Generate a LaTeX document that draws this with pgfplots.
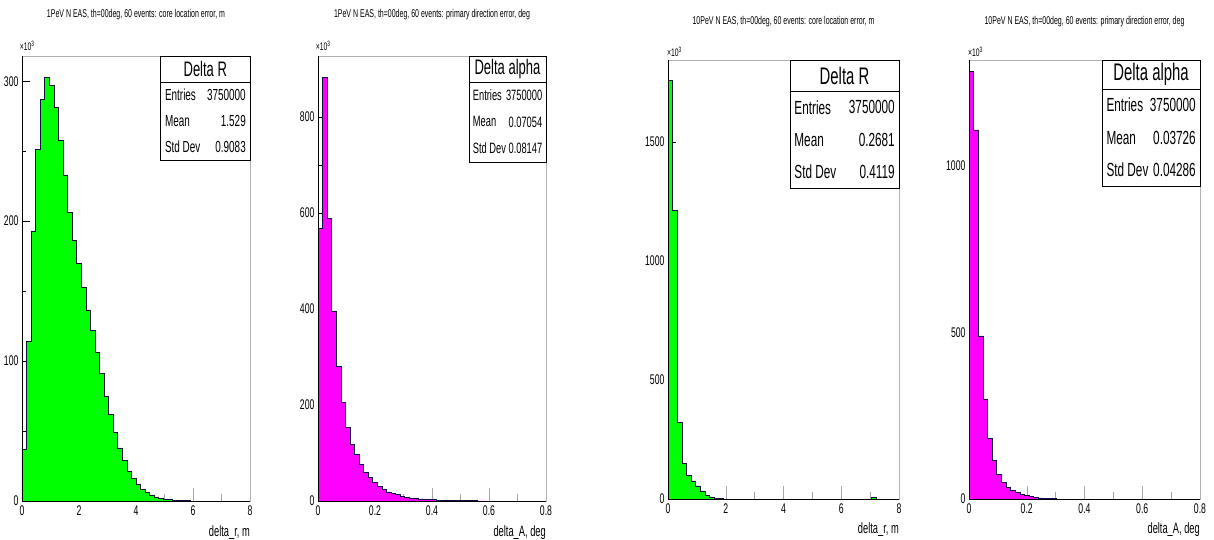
\documentclass[border=0pt]{standalone}
\usepackage{pgfplots}
\pgfplotsset{compat=1.18}
\usepackage{fontspec}
\setmainfont{Liberation Sans}[FakeStretch=0.62]
\newcommand\fs[1]{\fontsize{#1}{#1}\selectfont}
\definecolor{rootgreen}{rgb}{0,1,0}
\definecolor{rootmag}{rgb}{1,0,1}
\definecolor{rootline}{rgb}{0.06,0.06,0.25}
\pgfplotsset{
  rootaxis/.style={
    scale only axis,
    anchor=south west,
    clip=false,
    axis line style={gray!60, line width=0.5pt},
    tick align=inside,
    xtick pos=bottom, ytick pos=left,
    minor tick num=1,
    major tick length=8pt, minor tick length=4pt,
    x tick style={gray!70, line width=0.5pt},
    y tick style={black, line width=0.5pt},
    major x tick style={/pgfplots/major tick length=13pt},
    minor x tick style={/pgfplots/minor tick length=7pt},
    /pgf/number format/assume math mode=true,
    /pgf/number format/1000 sep={},
    scaled ticks=false,
    ymin=0,
    enlargelimits=false,
    ticklabel style={font=\fs{14}},
    xticklabel style={yshift=-1pt},
  },
  hist/.style={const plot mark left, draw=rootline, line width=0.6pt},
}
\begin{document}
\begin{tikzpicture}
\path[use as bounding box] (0,0) rectangle (1214pt,540pt);

% ---------------- Panel 1 ----------------
\begin{axis}[rootaxis, at={(22pt,39pt)}, width=228pt, height=445pt,
  xmin=0, xmax=8, ymax=318,
  xtick={0,2,4,6,8}, ytick={0,100,200,300}]
\addplot[hist, fill=rootgreen] coordinates {
(0,37) (0.16,114) (0.32,193) (0.48,251) (0.64,287) (0.8,303) (0.96,297) (1.12,281)
(1.28,258) (1.44,233) (1.6,206) (1.76,186) (1.92,170) (2.08,153) (2.24,136) (2.4,122)
(2.56,106) (2.72,91) (2.88,75) (3.04,62) (3.2,49) (3.36,38) (3.52,29) (3.68,21)
(3.84,16) (4.0,12) (4.16,8.5) (4.32,6) (4.48,4.3) (4.64,3) (4.8,2.1) (4.96,1.5)
(5.12,1.0) (5.28,0.7) (5.44,0.5) (5.6,0.3) (5.76,0.2) (5.92,0.2)} \closedcycle;
\draw[black, line width=0.6pt] (axis description cs:0,1) -- (axis description cs:0,0) -- (axis description cs:1,0);
\draw[line width=0.6pt, fill=white] (axis description cs:0.608,0.766) rectangle (axis description cs:1,1);
\draw[line width=0.6pt] (axis description cs:0.608,0.9416) -- (axis description cs:1,0.9416);
\node[font=\fs{21}] at (axis description cs:0.804,0.971) {Delta R};
\node[font=\fs{16}, anchor=west] at (axis description cs:0.612,0.912) {Entries};
\node[font=\fs{16}, anchor=east] at (axis description cs:0.997,0.912) {3750000};
\node[font=\fs{16}, anchor=west] at (axis description cs:0.612,0.854) {Mean};
\node[font=\fs{16}, anchor=east] at (axis description cs:0.997,0.854) {1.529};
\node[font=\fs{16}, anchor=west] at (axis description cs:0.612,0.795) {Std Dev};
\node[font=\fs{16}, anchor=east] at (axis description cs:0.997,0.795) {0.9083};
\node[font=\fs{11}, anchor=south west, inner sep=0pt] at (axis description cs:-0.01,1.012) {×10\textsuperscript{3}};
\node[font=\fs{11.3}, anchor=south, inner sep=0pt] at (axis description cs:0.5,1.08) {1PeV N EAS, th=00deg, 60 events: core location error, m};
\node[font=\fs{15}, anchor=east, inner sep=0pt] at (axis description cs:1,-0.07) {delta\_r, m};
\end{axis}

% ---------------- Panel 2 ----------------
\begin{axis}[rootaxis, at={(318pt,39pt)}, width=228pt, height=445pt,
  xmin=0, xmax=0.8, ymax=927,
  xtick={0,0.2,0.4,0.6,0.8}, ytick={0,200,400,600,800}]
\addplot[hist, fill=rootmag] coordinates {
(0,569) (0.016,883) (0.032,589) (0.048,396) (0.064,280) (0.08,205) (0.096,153) (0.112,118)
(0.128,97) (0.144,76) (0.16,60) (0.176,49) (0.192,38) (0.208,31) (0.224,24) (0.24,19)
(0.256,16) (0.272,13) (0.288,10) (0.304,8) (0.32,6.5) (0.336,5.5) (0.352,4.5) (0.368,3.5)
(0.384,3) (0.4,2.5) (0.416,2) (0.432,1.7) (0.448,1.4) (0.464,1.2) (0.48,1.0) (0.496,0.8)
(0.512,0.7) (0.528,0.6) (0.544,0.5) (0.56,0.4) (0.576,0.35) (0.592,0.35)} \closedcycle;
\draw[black, line width=0.6pt] (axis description cs:0,1) -- (axis description cs:0,0) -- (axis description cs:1,0);
\draw[line width=0.6pt, fill=white] (axis description cs:0.662,0.762) rectangle (axis description cs:1,1);
\draw[line width=0.6pt] (axis description cs:0.662,0.9416) -- (axis description cs:1,0.9416);
\node[font=\fs{21}] at (axis description cs:0.831,0.971) {Delta alpha};
\node[font=\fs{15}, anchor=west] at (axis description cs:0.664,0.912) {Entries};
\node[font=\fs{15}, anchor=east] at (axis description cs:0.999,0.912) {3750000};
\node[font=\fs{15}, anchor=west] at (axis description cs:0.664,0.852) {Mean};
\node[font=\fs{15}, anchor=east] at (axis description cs:0.999,0.852) {0.07054};
\node[font=\fs{15}, anchor=west] at (axis description cs:0.664,0.792) {Std Dev};
\node[font=\fs{15}, anchor=east] at (axis description cs:0.999,0.792) {0.08147};
\node[font=\fs{11}, anchor=south west, inner sep=0pt] at (axis description cs:-0.01,1.012) {×10\textsuperscript{3}};
\node[font=\fs{11.3}, anchor=south, inner sep=0pt] at (axis description cs:0.5,1.08) {1PeV N EAS, th=00deg, 60 events: primary direction error, deg};
\node[font=\fs{15}, anchor=east, inner sep=0pt] at (axis description cs:1,-0.07) {delta\_A, deg};
\end{axis}

% ---------------- Panel 3 ----------------
\begin{axis}[rootaxis, at={(668pt,41pt)}, width=231pt, height=439pt,
  xmin=0, xmax=8, ymax=1845,
  xtick={0,2,4,6,8}, ytick={0,500,1000,1500}, minor y tick num=0]
\addplot[hist, fill=rootgreen] coordinates {
(0,1758) (0.16,1214) (0.32,322) (0.48,150) (0.64,100) (0.8,76) (0.96,55) (1.12,34)
(1.28,17) (1.44,8.4) (1.6,4) (1.76,2) (1.92,2)} \closedcycle;
\addplot[hist, fill=rootgreen] coordinates {(7.04,6) (7.2,6)} \closedcycle;
\draw[black, line width=0.6pt] (axis description cs:0,1) -- (axis description cs:0,0) -- (axis description cs:1,0);
\draw[line width=0.6pt, fill=white] (axis description cs:0.528,0.708) rectangle (axis description cs:1,1);
\draw[line width=0.6pt] (axis description cs:0.528,0.929) -- (axis description cs:1,0.929);
\node[font=\fs{24}] at (axis description cs:0.764,0.964) {Delta R};
\node[font=\fs{19}, anchor=west] at (axis description cs:0.532,0.892) {Entries};
\node[font=\fs{19}, anchor=east] at (axis description cs:0.997,0.892) {3750000};
\node[font=\fs{19}, anchor=west] at (axis description cs:0.532,0.818) {Mean};
\node[font=\fs{19}, anchor=east] at (axis description cs:0.997,0.818) {0.2681};
\node[font=\fs{19}, anchor=west] at (axis description cs:0.532,0.745) {Std Dev};
\node[font=\fs{19}, anchor=east] at (axis description cs:0.997,0.745) {0.4119};
\node[font=\fs{11}, anchor=south west, inner sep=0pt] at (axis description cs:-0.005,1.008) {×10\textsuperscript{3}};
\node[font=\fs{11.3}, anchor=south, inner sep=0pt] at (axis description cs:0.5,1.076) {10PeV N EAS, th=00deg, 60 events: core location error, m};
\node[font=\fs{15}, anchor=east, inner sep=0pt] at (axis description cs:1,-0.07) {delta\_r, m};
\end{axis}

% ---------------- Panel 4 ----------------
\begin{axis}[rootaxis, at={(969pt,41pt)}, width=231pt, height=439pt,
  xmin=0, xmax=0.8, ymax=1319,
  xtick={0,0.2,0.4,0.6,0.8}, ytick={0,500,1000}, minor y tick num=0]
\addplot[hist, fill=rootmag] coordinates {
(0,1284) (0.016,1109) (0.032,490) (0.048,301) (0.064,183) (0.08,116) (0.096,74) (0.112,49)
(0.128,35) (0.144,25) (0.16,19) (0.176,14) (0.192,10) (0.208,7) (0.224,5) (0.24,3.5)
(0.256,2.5) (0.272,1.8) (0.288,1.2) (0.304,1.2)} \closedcycle;
\draw[black, line width=0.6pt] (axis description cs:0,1) -- (axis description cs:0,0) -- (axis description cs:1,0);
\draw[line width=0.6pt, fill=white] (axis description cs:0.576,0.713) rectangle (axis description cs:1,1);
\draw[line width=0.6pt] (axis description cs:0.576,0.934) -- (axis description cs:1,0.934);
\node[font=\fs{24}] at (axis description cs:0.788,0.967) {Delta alpha};
\node[font=\fs{19}, anchor=west] at (axis description cs:0.58,0.897) {Entries};
\node[font=\fs{19}, anchor=east] at (axis description cs:0.997,0.897) {3750000};
\node[font=\fs{19}, anchor=west] at (axis description cs:0.58,0.823) {Mean};
\node[font=\fs{19}, anchor=east] at (axis description cs:0.997,0.823) {0.03726};
\node[font=\fs{19}, anchor=west] at (axis description cs:0.58,0.750) {Std Dev};
\node[font=\fs{19}, anchor=east] at (axis description cs:0.997,0.750) {0.04286};
\node[font=\fs{11}, anchor=south west, inner sep=0pt] at (axis description cs:-0.005,1.008) {×10\textsuperscript{3}};
\node[font=\fs{11.3}, anchor=south, inner sep=0pt] at (axis description cs:0.5,1.076) {10PeV N EAS, th=00deg, 60 events: primary direction error, deg};
\node[font=\fs{15}, anchor=east, inner sep=0pt] at (axis description cs:1,-0.07) {delta\_A, deg};
\end{axis}
\end{tikzpicture}
\end{document}
